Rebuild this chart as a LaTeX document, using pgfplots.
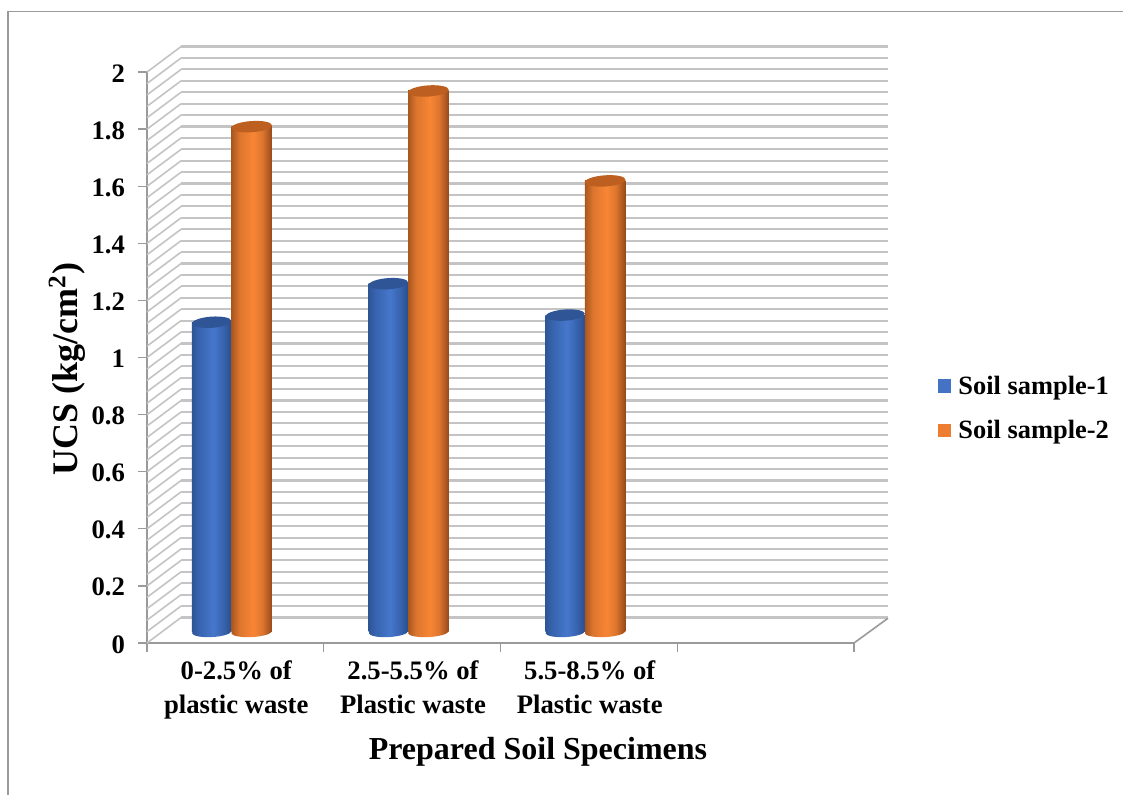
\documentclass[border=0pt]{standalone}
\usepackage{fontspec}
\setmainfont{Liberation Serif}
\usepackage{pgfplots}
\pgfplotsset{compat=1.18}
\definecolor{gridc}{HTML}{C4C4C4}
\definecolor{axc}{HTML}{9A9A9A}
\definecolor{blueL}{HTML}{2E5596}
\definecolor{blueE}{HTML}{3763AE}
\definecolor{blueM}{HTML}{4677CC}
\definecolor{blueR}{HTML}{2A4E8C}
\definecolor{blueC}{HTML}{2F5597}
\definecolor{blueS}{HTML}{4472C4}
\definecolor{orL}{HTML}{A9561F}
\definecolor{orE}{HTML}{DD762E}
\definecolor{orM}{HTML}{F88535}
\definecolor{orR}{HTML}{96491A}
\definecolor{orC}{HTML}{BC5F20}
\definecolor{orS}{HTML}{ED7D31}
\pgfdeclarehorizontalshading{cylb}{100bp}{color(0bp)=(blueL); color(25bp)=(blueL); color(33bp)=(blueE); color(52bp)=(blueM); color(65bp)=(blueE); color(75bp)=(blueR); color(100bp)=(blueR)}
\pgfdeclarehorizontalshading{cylo}{100bp}{color(0bp)=(orL); color(25bp)=(orL); color(35bp)=(orE); color(52bp)=(orM); color(63bp)=(orE); color(75bp)=(orR); color(100bp)=(orR)}
\pgfdeclareplotmark{capb}{\path[draw=none, fill=blueC] (0,0) ellipse [x radius=14.75pt, y radius=4.2pt, rotate=4];}
\pgfdeclareplotmark{capo}{\path[draw=none, fill=orC] (0,0) ellipse [x radius=15.25pt, y radius=4.2pt, rotate=4];}
\pgfdeclareplotmark{botb}{\path[draw=none, shading=cylb] (0,0) ellipse [x radius=14.75pt, y radius=3.8pt, rotate=3];}
\pgfdeclareplotmark{boto}{\path[draw=none, shading=cylo] (0,0) ellipse [x radius=15.25pt, y radius=3.8pt, rotate=3];}
\pgfplotsset{box/.style={scale only axis, width=530.25pt, height=428.25pt, anchor=south west,
  xmin=0, xmax=4, ymin=0, ymax=2, clip=false},
  bluebar/.style={ybar, bar width=29.5pt, bar shift=-14.75pt, draw=none, shade, shading=cylb, forget plot},
  orbar/.style={ybar, bar width=30.5pt, bar shift=15.25pt, draw=none, shade, shading=cylo, forget plot},
  endmark/.style={only marks, mark=#1, forget plot, mark options={draw=none}}}
\begin{document}
\begin{tikzpicture}
\path[use as bounding box, fill=white] (0,0) rectangle (842.25pt,596.25pt);
\draw[axc, line width=1pt] (6pt,0) -- (6pt,587.6pt) -- (842.25pt,587.6pt);
% back wall
\begin{axis}[box, at={(135.75pt,133.1pt)},
  axis line style={draw=none}, tick style={draw=none},
  xtick=\empty, ytick distance=0.04, yticklabels={}, ymajorgrids,
  grid style={gridc, line width=1.6pt}]
\end{axis}
% front axes
\begin{axis}[box, at={(110.25pt,114pt)},
  axis lines=left, axis line style={-, axc, line width=1.4pt},
  tick style={axc, line width=1pt}, tick align=outside, major tick length=6.5pt,
  xtick={0,1,2,3,4}, xticklabels={},
  extra x ticks={0.505,1.505,2.505},
  extra x tick labels={0-2.5\% of\\plastic waste, 2.5-5.5\% of\\Plastic waste, 5.5-8.5\% of\\Plastic waste},
  extra x tick style={major tick length=0pt, tick style={draw=none},
    tick label style={align=center, yshift=-10pt, font=\bfseries\fontsize{20}{25}\selectfont}},
  ytick={0,0.2,0.4,0.6,0.8,1,1.2,1.4,1.6,1.8,2},
  y tick label style={font=\bfseries\fontsize{20}{22}\selectfont, xshift=-6.5pt, yshift=-1pt, /pgf/number format/assume math mode=true},
  xlabel={Prepared Soil Specimens},
  xlabel style={at={(axis description cs:0.553,-0.19)}, anchor=center, font=\bfseries\fontsize{24}{28}\selectfont},
  ylabel={UCS (kg/cm\textsuperscript{2})},
  ylabel style={at={(axis description cs:-0.113,0.48)}, anchor=center, rotate=0, font=\bfseries\fontsize{27}{30}\selectfont}]
\pgfplotsinvokeforeach{0,0.04,...,2}{
  \draw[gridc, line width=1.2pt] (axis cs:0,#1) -- ++(25.5pt,19.1pt);
}
\draw[axc, line width=1.2pt] (axis cs:4,0) -- ++(25.5pt,18.6pt);
\end{axis}
% bars
\begin{axis}[box, at={(110.25pt,122.25pt)}, hide axis,
  legend style={at={(axis description cs:1.119,0.392)}, anchor=west, draw=none, fill=none,
    inner sep=0pt, outer sep=0pt, row sep=14pt, font=\bfseries\fontsize{19.8}{22}\selectfont,
    /tikz/column 1/.style={column sep=3.5pt}},
  legend cell align=left]
\addlegendimage{legend image code/.code={\path[draw=none, fill=blueS] (0pt,-4.9pt) rectangle (9.75pt,4.9pt);}}
\addlegendentry{Soil sample-1}
\addlegendimage{legend image code/.code={\path[draw=none, fill=orS] (0pt,-4.9pt) rectangle (9.75pt,4.9pt);}}
\addlegendentry{Soil sample-2}
% Soil sample-1
\addplot[endmark=botb] coordinates {(0.366,0)(1.366,0)(2.366,0)};
\addplot[bluebar] coordinates {(0.477,1.085)};
\addplot[bluebar] coordinates {(1.477,1.22)};
\addplot[bluebar] coordinates {(2.477,1.11)};
\addplot[endmark=capb] coordinates {(0.366,1.085)(1.366,1.22)(2.366,1.11)};
% Soil sample-2
\addplot[endmark=boto] coordinates {(0.592,0)(1.592,0)(2.592,0)};
\addplot[orbar] coordinates {(0.477,1.77)};
\addplot[orbar] coordinates {(1.477,1.895)};
\addplot[orbar] coordinates {(2.477,1.58)};
\addplot[endmark=capo] coordinates {(0.592,1.77)(1.592,1.895)(2.592,1.58)};
\end{axis}
\end{tikzpicture}
\end{document}
